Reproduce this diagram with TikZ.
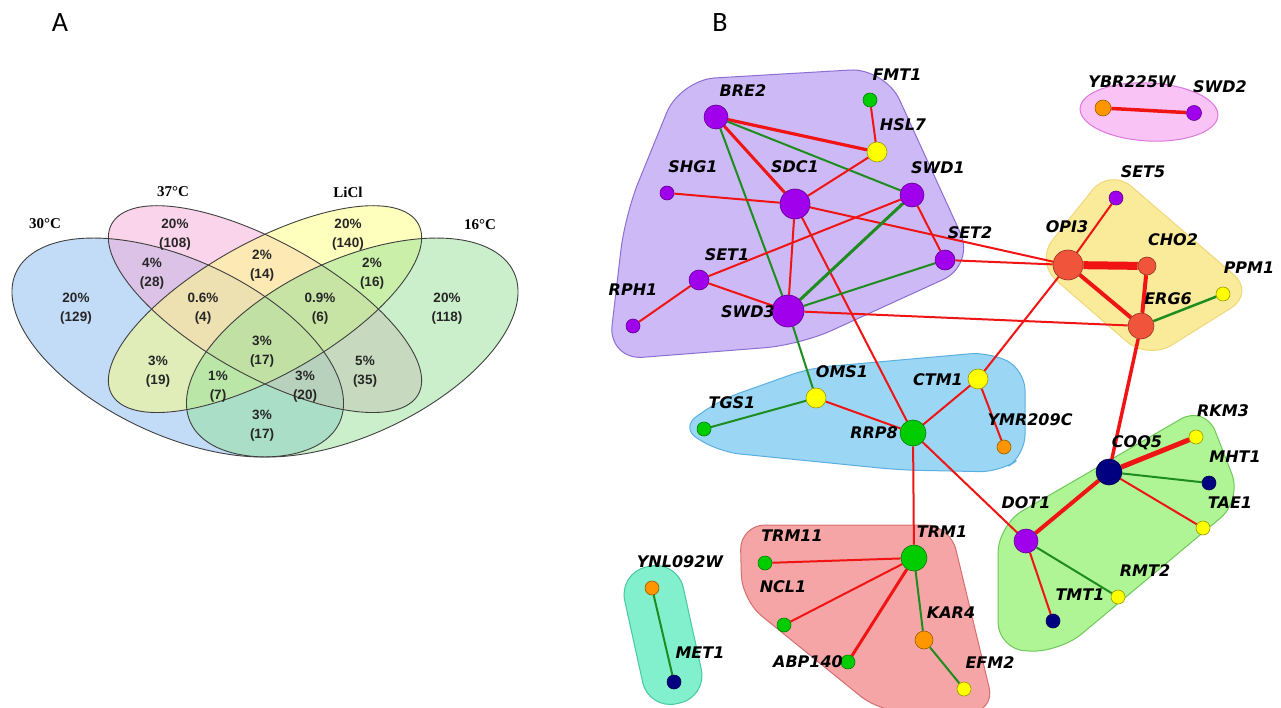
\documentclass[tikz,border=0pt]{standalone}
\usepackage{fontspec}
\setmainfont{Liberation Sans}
\newfontfamily\netfont{DejaVu Sans}
\newfontfamily\serffont{Liberation Serif}
\newfontfamily\panelfont{Carlito}
\pgfdeclarelayer{bgl}
\pgfdeclarelayer{hull}
\pgfdeclarelayer{edges}
\pgfsetlayers{bgl,hull,edges,main}
\definecolor{vblue}{RGB}{135,185,240}
\definecolor{vpink}{RGB}{247,170,215}
\definecolor{vyel}{RGB}{255,255,125}
\definecolor{vgrn}{RGB}{150,225,150}
\definecolor{cpur}{RGB}{160,0,235}
\definecolor{cyel}{RGB}{255,255,0}
\definecolor{cgrn}{RGB}{0,205,0}
\definecolor{corg}{RGB}{255,150,0}
\definecolor{cnav}{RGB}{0,0,128}
\definecolor{cred}{RGB}{240,85,60}
\definecolor{ered}{RGB}{240,20,20}
\definecolor{egrn}{RGB}{30,140,30}
\definecolor{hpurF}{RGB}{205,185,245}\definecolor{hpurD}{RGB}{140,110,210}
\definecolor{hpinF}{RGB}{250,195,245}\definecolor{hpinD}{RGB}{220,120,220}
\definecolor{hyelF}{RGB}{250,235,155}\definecolor{hyelD}{RGB}{240,215,120}
\definecolor{hbluF}{RGB}{155,215,245}\definecolor{hbluD}{RGB}{90,175,225}
\definecolor{hredF}{RGB}{245,165,165}\definecolor{hredD}{RGB}{215,110,110}
\definecolor{htelF}{RGB}{130,240,205}\definecolor{htelD}{RGB}{70,200,160}
\definecolor{hgrnF}{RGB}{175,245,150}\definecolor{hgrnD}{RGB}{110,200,90}
\tikzset{
  nd/.style={circle, draw=#1!60!black, fill=#1, inner sep=0pt, line width=0.6pt},
  lb/.style={font=\netfont\bfseries\itshape\fontsize{16}{18}\selectfont, inner sep=0pt},
  vnum/.style={font=\bfseries\fontsize{13.5}{19}\selectfont, align=center, inner sep=0pt, text=black!85},
  vset/.style={font=\serffont\bfseries\fontsize{15}{17}\selectfont, inner sep=0pt},
  er/.style={draw=ered, line width=#1},
  er/.default=2pt,
  eg/.style={draw=egrn, line width=#1},
  eg/.default=2pt,
  venn/.style={line width=0.9pt, draw=black!75},
  hull/.style={line width=1pt},
}
\begin{document}
\begin{tikzpicture}[x=1pt,y=1pt]
\begin{pgfonlayer}{bgl}
\fill[white] (0,0) rectangle (1281,-708);
\end{pgfonlayer}
\useasboundingbox (0,0) rectangle (1281,-708);
% panel labels
\node[font=\panelfont\fontsize{28}{30}\selectfont, inner sep=0pt] (pA) at (60,-23) {A};
\node[font=\panelfont\fontsize{28}{30}\selectfont, inner sep=0pt] (pB) at (720,-23) {B};
% ---------------- Venn diagram ----------------
\begin{scope}[shift={(-25.8,-528)}, xscale=581.6, yscale=384]
  \fill[vblue, fill opacity=0.5, rotate around={135:(0.35,0.47)}] (0.35,0.47) ellipse [x radius=0.35, y radius=0.20];
  \fill[vpink, fill opacity=0.5, rotate around={135:(0.5,0.57)}] (0.5,0.57) ellipse [x radius=0.35, y radius=0.15];
  \fill[vyel, fill opacity=0.5, rotate around={45:(0.5,0.57)}] (0.5,0.57) ellipse [x radius=0.35, y radius=0.15];
  \fill[vgrn, fill opacity=0.5, rotate around={45:(0.65,0.47)}] (0.65,0.47) ellipse [x radius=0.35, y radius=0.20];
  \draw[venn, rotate around={135:(0.35,0.47)}] (0.35,0.47) ellipse [x radius=0.35, y radius=0.20];
  \draw[venn, rotate around={135:(0.5,0.57)}] (0.5,0.57) ellipse [x radius=0.35, y radius=0.15];
  \draw[venn, rotate around={45:(0.5,0.57)}] (0.5,0.57) ellipse [x radius=0.35, y radius=0.15];
  \draw[venn, rotate around={45:(0.65,0.47)}] (0.65,0.47) ellipse [x radius=0.35, y radius=0.20];
\end{scope}
\node[vset] (s30) at (45,-224) {30°C};
\node[vset] (s37) at (173,-192) {37°C};
\node[vset] (sLi) at (348,-192) {LiCl};
\node[vset] (s16) at (480,-225) {16°C};
\node[vnum] (n1) at (175,-234.5) {20\%\\(108)};
\node[vnum] (n2) at (348,-234.5) {20\%\\(140)};
\node[vnum] (n3) at (262,-266) {2\%\\(14)};
\node[vnum] (n4) at (152,-273.5) {4\%\\(28)};
\node[vnum] (n5) at (372,-273.5) {2\%\\(16)};
\node[vnum] (n6) at (76,-308.5) {20\%\\(129)};
\node[vnum] (n7) at (203,-308.5) {0.6\%\\(4)};
\node[vnum] (n8) at (320,-308.5) {0.9\%\\(6)};
\node[vnum] (n9) at (447,-308.5) {20\%\\(118)};
\node[vnum] (n10) at (262,-351.5) {3\%\\(17)};
\node[vnum] (n11) at (158,-371.5) {3\%\\(19)};
\node[vnum] (n12) at (365,-371.5) {5\%\\(35)};
\node[vnum] (n13) at (218,-386.5) {1\%\\(7)};
\node[vnum] (n14) at (305,-386.5) {3\%\\(20)};
\node[vnum] (n15) at (262,-425.5) {3\%\\(17)};
% ---------------- Network hulls ----------------
\begin{pgfonlayer}{hull}
  \filldraw[hull, fill=hpurF, draw=hpurD, rounded corners=35pt]
    (680,-80) -- (885,-68) -- (975,-265) -- (800,-345) -- (608,-360) -- (625,-215) -- cycle;
  \filldraw[hull, fill=hpinF, draw=hpinD, rotate around={-3:(1149,-112)}] (1149,-112) ellipse [x radius=69, y radius=29];
  \filldraw[hull, fill=hyelF, draw=hyelD, rounded corners=28pt]
    (1110,-168) -- (1255,-293) -- (1148,-360) -- (1035,-262) -- cycle;
  \filldraw[hull, fill=hbluF, draw=hbluD, rounded corners=20pt]
    (680,-428) -- (720,-400) -- (810,-368) -- (990,-352) -- (1025,-370) -- (1025,-455) -- (1000,-472) -- (900,-470) -- (720,-452) -- cycle;
  \filldraw[hull, fill=hredF, draw=hredD, rounded corners=25pt]
    (740,-525) -- (950,-525) -- (995,-712) -- (880,-712) -- (742,-600) -- cycle;
  \filldraw[hull, fill=htelF, draw=htelD, rotate around={-77.6:(663,-635)}, rounded corners=28pt]
    (593,-665) rectangle (733,-605);
  \filldraw[hull, fill=hgrnF, draw=hgrnD, rounded corners=28pt]
    (998,-525) -- (1205,-405) -- (1242,-500) -- (1060,-652) -- (998,-650) -- cycle;
\end{pgfonlayer}
% ---------------- Network nodes ----------------
\node[nd=cpur, minimum size=24pt] (BRE2) at (716,-117) {};
\node[nd=cgrn, minimum size=14pt] (FMT1) at (870,-100) {};
\node[nd=cyel, minimum size=20pt] (HSL7) at (877,-152) {};
\node[nd=cpur, minimum size=14pt] (SHG1) at (667,-193) {};
\node[nd=cpur, minimum size=30pt] (SDC1) at (795,-204) {};
\node[nd=cpur, minimum size=24pt] (SWD1) at (912,-195) {};
\node[nd=cpur, minimum size=20pt] (SET2) at (945,-260) {};
\node[nd=cpur, minimum size=20pt] (SET1) at (699,-280) {};
\node[nd=cpur, minimum size=14pt] (RPH1) at (633,-326) {};
\node[nd=cpur, minimum size=32pt] (SWD3) at (788,-311) {};
\node[nd=corg, minimum size=16pt] (YBR225W) at (1103,-108) {};
\node[nd=cpur, minimum size=15pt] (SWD2) at (1194,-113) {};
\node[nd=cpur, minimum size=14pt] (SET5) at (1116,-198) {};
\node[nd=cred, minimum size=30pt] (OPI3) at (1068,-265) {};
\node[nd=cred, minimum size=18pt] (CHO2) at (1147,-266) {};
\node[nd=cyel, minimum size=14pt] (PPM1) at (1223,-294) {};
\node[nd=cred, minimum size=26pt] (ERG6) at (1141,-326) {};
\node[nd=cyel, minimum size=20pt] (OMS1) at (816,-398) {};
\node[nd=cgrn, minimum size=14pt] (TGS1) at (704,-429) {};
\node[nd=cgrn, minimum size=26pt] (RRP8) at (913,-433) {};
\node[nd=cyel, minimum size=20pt] (CTM1) at (978,-379) {};
\node[nd=corg, minimum size=14pt] (YMR209C) at (1004,-447) {};
\node[nd=cgrn, minimum size=26pt] (TRM1) at (914,-558) {};
\node[nd=cgrn, minimum size=14pt] (TRM11) at (765,-563) {};
\node[nd=cgrn, minimum size=14pt] (NCL1) at (784,-625) {};
\node[nd=cgrn, minimum size=14pt] (ABP140) at (848,-662) {};
\node[nd=corg, minimum size=18pt] (KAR4) at (924,-640) {};
\node[nd=cyel, minimum size=14pt] (EFM2) at (964,-689) {};
\node[nd=corg, minimum size=14pt] (YNL092W) at (652,-588) {};
\node[nd=cnav, minimum size=14pt] (MET1) at (674,-682) {};
\node[nd=cnav, minimum size=26pt] (COQ5) at (1109,-472) {};
\node[nd=cyel, minimum size=14pt] (RKM3) at (1196,-437) {};
\node[nd=cnav, minimum size=14pt] (MHT1) at (1209,-483) {};
\node[nd=cyel, minimum size=14pt] (TAE1) at (1203,-528) {};
\node[nd=cpur, minimum size=24pt] (DOT1) at (1026,-541) {};
\node[nd=cyel, minimum size=14pt] (RMT2) at (1118,-597) {};
\node[nd=cnav, minimum size=14pt] (TMT1) at (1053,-621) {};
% ---------------- Edges ----------------
\begin{pgfonlayer}{edges}
  \draw[er=3.2pt] (BRE2) -- (HSL7);
  \draw[er=3pt] (BRE2) -- (SDC1);
  \draw[eg] (BRE2) -- (SWD1);
  \draw[eg] (BRE2) -- (SWD3);
  \draw[er] (FMT1) -- (HSL7);
  \draw[er] (HSL7) -- (SDC1);
  \draw[er] (SHG1) -- (SDC1);
  \draw[er] (SDC1) -- (SWD3);
  \draw[er] (SDC1) -- (OPI3);
  \draw[er] (SDC1) -- (RRP8);
  \draw[er] (SWD1) -- (SET1);
  \draw[er] (SWD1) -- (SET2);
  \draw[eg=3pt] (SWD1) -- (SWD3);
  \draw[eg] (SET2) -- (SWD3);
  \draw[er] (SET2) -- (OPI3);
  \draw[er] (SET1) -- (SWD3);
  \draw[er] (SET1) -- (RPH1);
  \draw[er] (SWD3) -- (ERG6);
  \draw[eg] (SWD3) -- (OMS1);
  \draw[er=3.5pt] (YBR225W) -- (SWD2);
  \draw[er] (OPI3) -- (SET5);
  \draw[er=8pt] (OPI3) -- (CHO2);
  \draw[er=4pt] (OPI3) -- (ERG6);
  \draw[er=4pt] (CHO2) -- (ERG6);
  \draw[eg=2.5pt] (ERG6) -- (PPM1);
  \draw[er] (OPI3) -- (CTM1);
  \draw[er=3.5pt] (ERG6) -- (COQ5);
  \draw[er] (CTM1) -- (RRP8);
  \draw[er] (CTM1) -- (YMR209C);
  \draw[eg] (OMS1) -- (TGS1);
  \draw[er] (OMS1) -- (RRP8);
  \draw[er] (RRP8) -- (TRM1);
  \draw[er] (RRP8) -- (DOT1);
  \draw[er] (TRM1) -- (TRM11);
  \draw[er] (TRM1) -- (NCL1);
  \draw[er=3pt] (TRM1) -- (ABP140);
  \draw[eg] (TRM1) -- (KAR4);
  \draw[eg] (KAR4) -- (EFM2);
  \draw[eg] (YNL092W) -- (MET1);
  \draw[er=5pt] (COQ5) -- (RKM3);
  \draw[eg] (COQ5) -- (MHT1);
  \draw[er] (COQ5) -- (TAE1);
  \draw[er=4pt] (COQ5) -- (DOT1);
  \draw[eg] (DOT1) -- (RMT2);
  \draw[er] (DOT1) -- (TMT1);
\end{pgfonlayer}
% ---------------- Labels ----------------
\node[lb] (lBRE2) at (743,-91) {BRE2};
\node[lb] (lFMT1) at (897,-75) {FMT1};
\node[lb] (lHSL7) at (903,-125) {HSL7};
\node[lb] (lSHG1) at (693,-167) {SHG1};
\node[lb] (lSDC1) at (795,-167) {SDC1};
\node[lb] (lSWD1) at (938,-168) {SWD1};
\node[lb] (lSET2) at (970,-233) {SET2};
\node[lb] (lSET1) at (727,-255) {SET1};
\node[lb] (lRPH1) at (633,-290) {RPH1};
\node[lb] (lSWD3) at (748,-312) {SWD3};
\node[lb] (lYBR225W) at (1132,-82) {YBR225W};
\node[lb] (lSWD2) at (1220,-87) {SWD2};
\node[lb] (lSET5) at (1143,-172) {SET5};
\node[lb] (lOPI3) at (1067,-227) {OPI3};
\node[lb] (lCHO2) at (1173,-240) {CHO2};
\node[lb] (lPPM1) at (1249,-268) {PPM1};
\node[lb] (lERG6) at (1168,-299) {ERG6};
\node[lb] (lOMS1) at (842,-372) {OMS1};
\node[lb] (lTGS1) at (732,-403) {TGS1};
\node[lb] (lRRP8) at (874,-433) {RRP8};
\node[lb] (lCTM1) at (938,-380) {CTM1};
\node[lb] (lYMR209C) at (1030,-420) {YMR209C};
\node[lb] (lTRM1) at (942,-532) {TRM1};
\node[lb] (lTRM11) at (792,-536) {TRM11};
\node[lb] (lNCL1) at (783,-587) {NCL1};
\node[lb] (lABP140) at (808,-662) {ABP140};
\node[lb] (lKAR4) at (951,-613) {KAR4};
\node[lb] (lEFM2) at (990,-663) {EFM2};
\node[lb] (lYNL092W) at (680,-562) {YNL092W};
\node[lb] (lMET1) at (700,-653) {MET1};
\node[lb] (lCOQ5) at (1137,-443) {COQ5};
\node[lb] (lRKM3) at (1223,-411) {RKM3};
\node[lb] (lMHT1) at (1235,-457) {MHT1};
\node[lb] (lTAE1) at (1230,-503) {TAE1};
\node[lb] (lDOT1) at (1026,-503) {DOT1};
\node[lb] (lRMT2) at (1145,-571) {RMT2};
\node[lb] (lTMT1) at (1080,-595) {TMT1};
\end{tikzpicture}
\end{document}
